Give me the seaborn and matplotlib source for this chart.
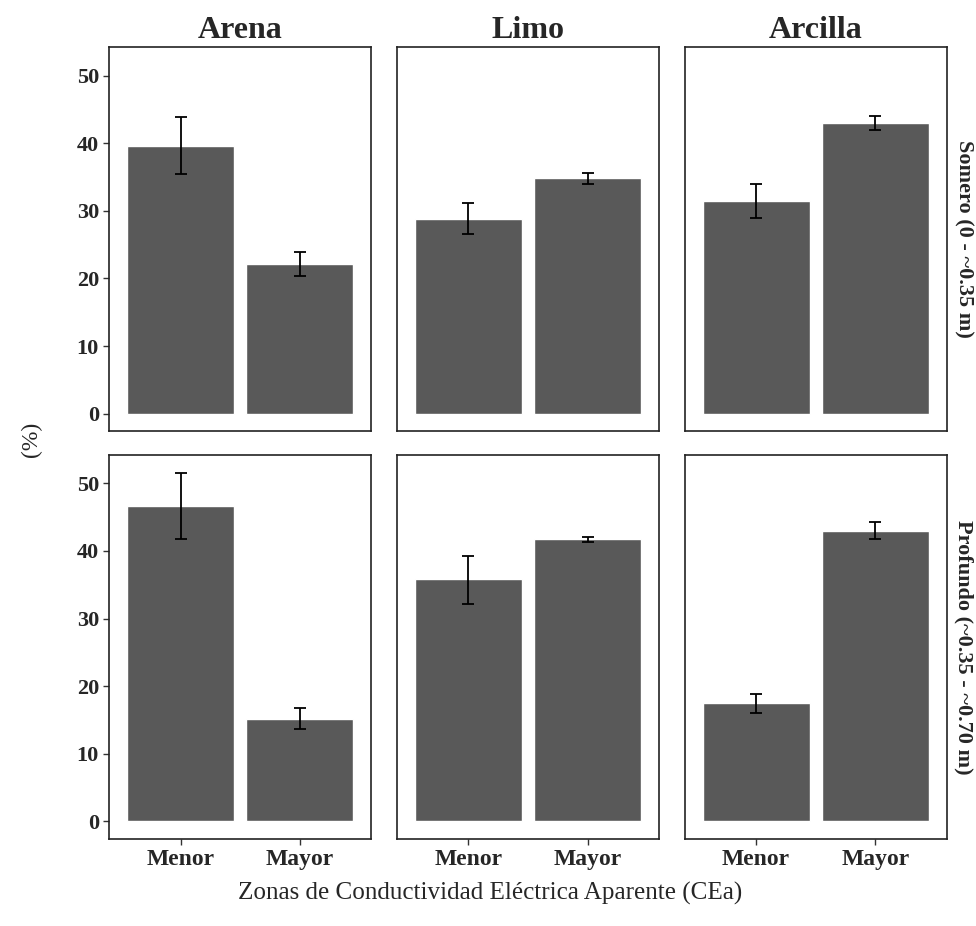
import numpy as np
import pandas as pd
import matplotlib.pyplot as plt
import seaborn as sns

# ========== datos ==========
fracciones = ['Arena', 'Limo', 'Arcilla']
profundidades = ['Somero (0 - ~0.35 m)', 'Profundo (~0.35 - ~0.70 m)']
zonas = ['Menor', 'Mayor']

# medias (%) por profundidad -> [Arena Menor, Arena Mayor, Limo Menor, Limo Mayor, Arcilla Menor, Arcilla Mayor]
media_somero = [39.6, 22.1, 28.8, 34.8, 31.5, 43.0]
media_profundo = [46.6, 15.1, 35.8, 41.7, 17.5, 43.0]
# limites de la barra de error
inf_somero = [35.5, 20.4, 26.5, 33.9, 29.0, 42.0]
sup_somero = [43.9, 23.9, 31.1, 35.6, 34.0, 44.1]
inf_profundo = [41.7, 13.6, 32.2, 41.4, 16.1, 41.7]
sup_profundo = [51.6, 16.7, 39.3, 42.1, 18.9, 44.3]

rows = []
for prof, med, lo, hi in [(profundidades[0], media_somero, inf_somero, sup_somero),
                          (profundidades[1], media_profundo, inf_profundo, sup_profundo)]:
    k = 0
    for fr in fracciones:
        for z in zonas:
            rows.append({'prof': prof, 'frac': fr, 'zona': z,
                         'valor': med[k], 'lo': lo[k], 'hi': hi[k]})
            k += 1
df = pd.DataFrame(rows)

# ========== estilo ==========
sns.set_style('white')
plt.rcParams['font.family'] = ['Liberation Serif', 'DejaVu Serif']
C_BAR = '#595959'

fig, axes = plt.subplots(2, 3, figsize=(9.76, 9.26), dpi=100)
fig.subplots_adjust(left=0.112, right=0.970, top=0.949, bottom=0.094,
                    wspace=0.098, hspace=0.062)

for i, prof in enumerate(profundidades):
    for j, fr in enumerate(fracciones):
        ax = axes[i, j]
        sub = df[(df['prof'] == prof) & (df['frac'] == fr)]
        sns.barplot(data=sub, x='zona', y='valor', order=zonas, color=C_BAR,
                    saturation=1, width=0.9, errorbar=None, ax=ax)
        ax.errorbar(np.arange(len(zonas)), sub['valor'],
                    yerr=[sub['valor'] - sub['lo'], sub['hi'] - sub['valor']],
                    fmt='none', ecolor='black', elinewidth=1.3, capsize=4.5, capthick=1.3)
        ax.set_xlim(-0.6, 1.6)
        ax.set_ylim(-2.6, 54.2)
        ax.set_yticks([0, 10, 20, 30, 40, 50])
        ax.set_xlabel('')
        ax.set_ylabel('')
        for s in ax.spines.values():
            s.set_visible(True)
            s.set_color('#222222')
            s.set_linewidth(1.2)
        ax.tick_params(axis='both', direction='out', length=4, width=1, color='#333333',
                       labelsize=16, left=True, bottom=True)
        for lab in ax.get_yticklabels():
            lab.set_fontweight('bold')
        if j > 0:
            ax.tick_params(axis='y', left=False, labelleft=False)
        if i == 0:
            ax.set_title(fr, fontsize=23, fontweight='bold', pad=7)
            ax.tick_params(axis='x', bottom=False, labelbottom=False)
        else:
            ax.set_xticks(range(len(zonas)))
            ax.set_xticklabels(zonas, fontsize=17, fontweight='bold')
        if j == 2:
            ax.text(1.025, 0.5, prof, transform=ax.transAxes, rotation=-90,
                    ha='left', va='center', fontsize=16, fontweight='bold')

fig.text(0.032, 0.525, '(%)', rotation=90, ha='center', va='center', fontsize=17)
fig.text(0.502, 0.035, 'Zonas de Conductividad Eléctrica Aparente (CEa)',
         ha='center', va='center', fontsize=18.1)

plt.savefig('out.png', dpi=100)
